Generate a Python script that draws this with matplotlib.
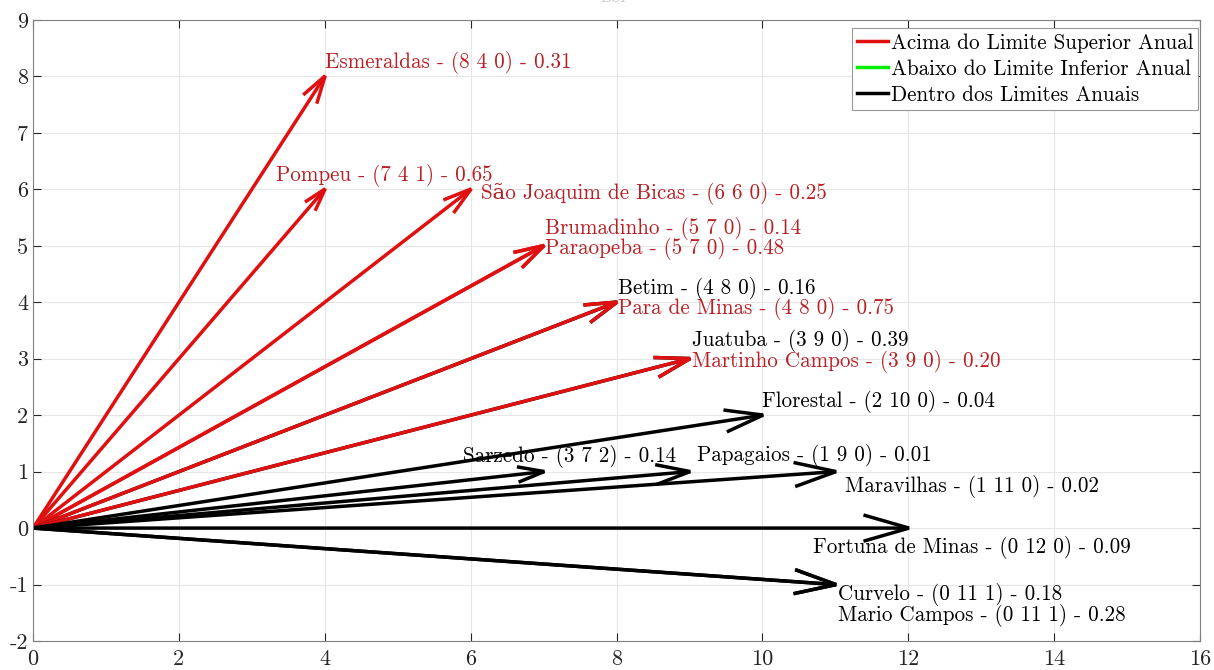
import numpy as np
import matplotlib
matplotlib.use('Agg')
import matplotlib.pyplot as plt
from matplotlib.patches import FancyArrowPatch

plt.rcParams['font.family'] = ['cmr10', 'DejaVu Serif']
plt.rcParams['mathtext.fontset'] = 'cm'
plt.rcParams['axes.unicode_minus'] = False
plt.rcParams['axes.formatter.use_mathtext'] = False

# municipio, (a b c), indice, situacao
nomes = ['Esmeraldas', 'Pompeu', 'São Joaquim de Bicas', 'Brumadinho', 'Paraopeba',
         'Betim', 'Para de Minas', 'Juatuba', 'Martinho Campos', 'Florestal',
         'Sarzedo', 'Papagaios', 'Maravilhas', 'Fortuna de Minas', 'Curvelo',
         'Mario Campos']
a = [8, 7, 6, 5, 5, 4, 4, 3, 3, 2, 3, 1, 1, 0, 0, 0]
b = [4, 4, 6, 7, 7, 8, 8, 9, 9, 10, 7, 9, 11, 12, 11, 11]
c = [0, 1, 0, 0, 0, 0, 0, 0, 0, 0, 2, 0, 0, 0, 1, 1]
indice = [0.31, 0.65, 0.25, 0.14, 0.48, 0.16, 0.75, 0.39, 0.20, 0.04,
          0.14, 0.01, 0.02, 0.09, 0.18, 0.28]
situacao = ['acima', 'acima', 'acima', 'acima', 'acima', 'dentro', 'acima', 'dentro',
            'acima', 'dentro', 'dentro', 'dentro', 'dentro', 'dentro', 'dentro', 'dentro']

# label offsets relative to arrow tip (data units)
off_x = [0.0, -0.67, 0.14, 0.02, 0.02, 0.02, 0.02, 0.03, 0.03, 0.0,
         -1.1, 0.1, 0.13, -1.3, 0.03, 0.03]
off_y = [0.25, 0.24, -0.08, 0.30, -0.05, 0.24, -0.11, 0.32, -0.05, 0.24,
         0.27, 0.29, -0.26, -0.35, -0.17, -0.55]

cor_seta = {'acima': '#e01010', 'abaixo': '#00ee00', 'dentro': 'black'}
cor_texto = {'acima': '#b82025', 'abaixo': '#00aa00', 'dentro': 'black'}

W, H = 1214, 670
fig = plt.figure(figsize=(W / 100, H / 100), dpi=100)
ax = fig.add_axes([33 / W, 29 / H, 1167 / W, 621 / H])
ax.set_xlim(0, 16)
ax.set_ylim(-2, 9)
ax.set_xticks(np.arange(0, 17, 2))
ax.set_yticks(np.arange(-2, 10, 1))
ax.grid(True, color='#e6e6e6', linewidth=0.8)
ax.set_axisbelow(True)
ax.tick_params(direction='in', length=6, labelsize=16, colors='#262626',
               top=True, right=True)
ax.tick_params(axis='x', pad=6)
for s in ax.spines.values():
    s.set_color('#808080')
    s.set_linewidth(0.8)

# y coordinate = a - c, x coordinate = b
xs = np.array(b, dtype=float)
ys = np.array(a, dtype=float) - np.array(c, dtype=float)

fig.canvas.draw()
inv = ax.transData.inverted()
p0 = ax.transData.transform((0, 0))
for i in range(len(nomes)):
    p1 = ax.transData.transform((xs[i], ys[i]))
    d = p1 - p0
    Lpx = np.hypot(*d)
    L = Lpx * 0.72  # points
    hl = 0.052 * L
    hw = 0.015 * L
    # the '->' head sits a little short of its end point, so push it out
    fim = inv.transform(p1 + d / Lpx * 7)
    arr = FancyArrowPatch((0, 0), tuple(fim),
                          arrowstyle='->,head_length=%.2f,head_width=%.2f' % (hl, hw),
                          mutation_scale=1, shrinkA=0, shrinkB=0,
                          color=cor_seta[situacao[i]], linewidth=2.5,
                          joinstyle='miter', capstyle='butt')
    ax.add_patch(arr)
    rot = '(%d %d %d)' % (a[i], b[i], c[i])
    txt = nomes[i] + ' - ' + rot + ' - %.2f' % indice[i]
    ax.text(xs[i] + off_x[i], ys[i] + off_y[i], txt, fontsize=15.2,
            color=cor_texto[situacao[i]], ha='left', va='center')

h1, = ax.plot([], [], color='#e01010', linewidth=2.5)
h2, = ax.plot([], [], color='#00ee00', linewidth=2.5)
h3, = ax.plot([], [], color='black', linewidth=2.5)
leg = ax.legend([h1, h2, h3], ['Acima do Limite Superior Anual',
                               'Abaixo do Limite Inferior Anual',
                               'Dentro dos Limites Anuais'],
                loc='upper right', fontsize=15.2, handlelength=1.5, handletextpad=0.1,
                borderpad=0.25, labelspacing=0.3, fancybox=False, framealpha=1,
                bbox_to_anchor=(0.9985, 0.987), borderaxespad=0)
leg.get_frame().set_edgecolor('#999999')
leg.get_frame().set_linewidth(0.8)

fig.text(0.505, 1.003, 'DSI', ha='center', va='center', fontsize=11, color='#c8c8c8')

fig.savefig('out.png', dpi=100)
